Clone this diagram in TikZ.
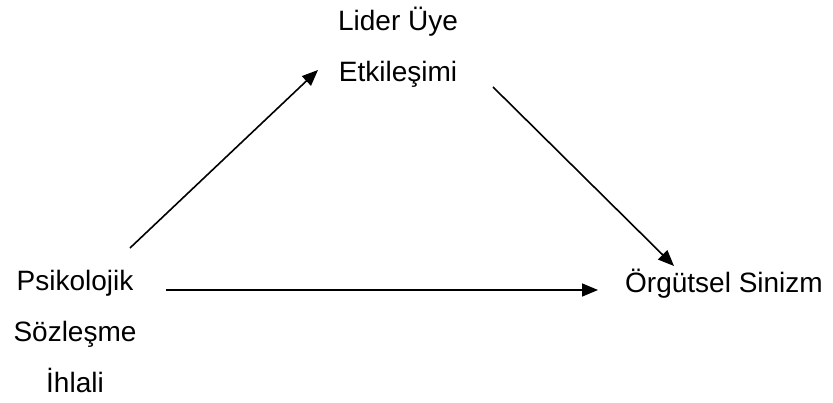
\documentclass[tikz,border=0pt]{standalone}
\usepackage{fontspec}
\setmainfont{Liberation Sans}
\usetikzlibrary{arrows.meta}
\begin{document}
\begin{tikzpicture}[x=1pt,y=-1pt,
  lbl/.style={align=center,inner sep=0pt,anchor=base,font=\fontsize{28}{51}\selectfont},
  conn/.style={line width=1.6pt,-{Triangle[length=16pt,width=13pt]}}]
\useasboundingbox (0,0) rectangle (833,403);
\node[lbl] (lu) at (398,82) {Lider Üye\\Etkileşimi};
\node[lbl] (psi) at (75,392) {Psikolojik\\Sözleşme\\İhlali};
\node[lbl] (os) at (724,293) {Örgütsel Sinizm};
\coordinate (a1s) at (130,248);
\coordinate (a1e) at (318,70);
\coordinate (a2s) at (493,87);
\coordinate (a2e) at (674,266);
\coordinate (a3s) at (166,290);
\coordinate (a3e) at (598,290);
\draw[conn] (a1s) -- (a1e);
\draw[conn] (a2s) -- (a2e);
\draw[conn] (a3s) -- (a3e);
\end{tikzpicture}
\end{document}
